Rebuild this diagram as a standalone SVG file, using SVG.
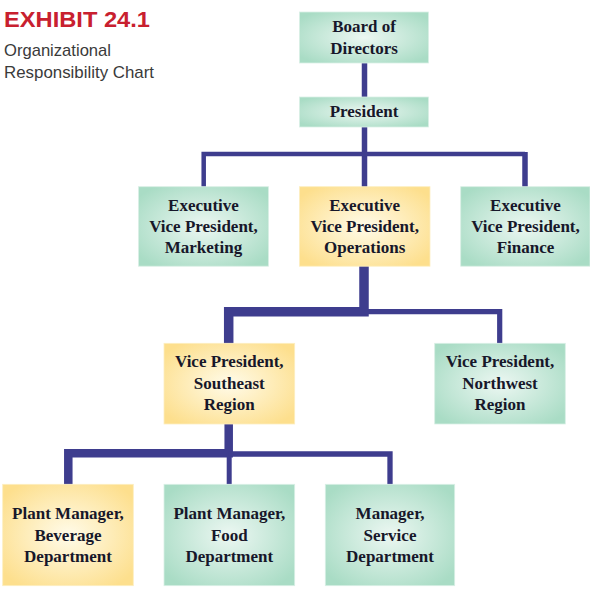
<svg xmlns="http://www.w3.org/2000/svg" width="590" height="603" viewBox="0 0 590 603">
<defs>
<radialGradient id="gGreen" cx="50%" cy="50%" r="62%">
<stop offset="0" stop-color="#ecf7f2"/>
<stop offset="1" stop-color="#a9dcc5"/>
</radialGradient>
<radialGradient id="gYellow" cx="50%" cy="50%" r="62%">
<stop offset="0" stop-color="#fffbe9"/>
<stop offset="1" stop-color="#fddf8d"/>
</radialGradient>
</defs>
<style>
.green{fill:url(#gGreen);stroke:#d9efe5;stroke-width:0.8}
.yellow{fill:url(#gYellow);stroke:#fdeec0;stroke-width:0.8}
.lbl{font-family:"Liberation Serif","Times New Roman",serif;font-weight:bold;font-size:17px;fill:#17172a;text-anchor:middle}
.conn{fill:none;stroke:#3e3d8e;stroke-linejoin:miter;stroke-linecap:butt}
.title{font-family:"Liberation Sans",Arial,sans-serif;font-weight:bold;font-size:21.5px;fill:#c8202f}
.sub{font-family:"Liberation Sans",Arial,sans-serif;font-size:16.6px;fill:#3a3a3a}
</style>
<rect width="590" height="603" fill="#ffffff"/>
<g id="header">
<text class="title" x="4" y="27" textLength="146" lengthAdjust="spacingAndGlyphs">EXHIBIT 24.1</text>
<text class="sub" x="4" y="56">Organizational</text>
<text class="sub" x="4" y="78" textLength="150" lengthAdjust="spacingAndGlyphs">Responsibility Chart</text>
</g>
<g id="connectors">
<path class="conn" stroke-width="5.5" d="M364.5 63 V97"/>
<path class="conn" stroke-width="5.5" d="M364.5 127 V187"/>
<path class="conn" stroke-width="4.5" d="M203.7 187 V154 H525"/>
<path class="conn" stroke-width="5.5" d="M525 152 V187"/>
<path class="conn" stroke-width="9.5" d="M228.7 343.5 V311.7 H364 V266"/>
<path class="conn" stroke-width="5.2" d="M364 311.7 H499.7 V343.5"/>
<path class="conn" stroke-width="8.5" d="M68.3 484.5 V453.3 H228.7 V424"/>
<path class="conn" stroke-width="5" d="M229.2 453 V484.5"/>
<path class="conn" stroke-width="5.3" d="M228.7 454 H390 V484.5"/>
</g>
<g id="board">
<rect class="green" x="299.5" y="12" width="129" height="51"/>
<text class="lbl" x="364" y="32">Board of</text>
<text class="lbl" x="364" y="54">Directors</text>
</g>
<g id="president">
<rect class="green" x="299.5" y="97" width="129" height="30"/>
<text class="lbl" x="364" y="117">President</text>
</g>
<g id="evp-marketing">
<rect class="green" x="138.5" y="186.7" width="130" height="79.5"/>
<text class="lbl" x="203.5" y="211">Executive</text>
<text class="lbl" x="203.5" y="232">Vice President,</text>
<text class="lbl" x="203.5" y="253">Marketing</text>
</g>
<g id="evp-operations">
<rect class="yellow" x="299.5" y="186.7" width="130.5" height="79.5"/>
<text class="lbl" x="364.7" y="211">Executive</text>
<text class="lbl" x="364.7" y="232">Vice President,</text>
<text class="lbl" x="364.7" y="253">Operations</text>
</g>
<g id="evp-finance">
<rect class="green" x="460.7" y="186.7" width="129.3" height="79.5"/>
<text class="lbl" x="525.5" y="211">Executive</text>
<text class="lbl" x="525.5" y="232">Vice President,</text>
<text class="lbl" x="525.5" y="253">Finance</text>
</g>
<g id="vp-southeast">
<rect class="yellow" x="164" y="343.3" width="130.7" height="80.7"/>
<text class="lbl" x="229.3" y="367">Vice President,</text>
<text class="lbl" x="229.3" y="388.5">Southeast</text>
<text class="lbl" x="229.3" y="409.5">Region</text>
</g>
<g id="vp-northwest">
<rect class="green" x="434.7" y="343.3" width="130.6" height="80.7"/>
<text class="lbl" x="500" y="367">Vice President,</text>
<text class="lbl" x="500" y="388.5">Northwest</text>
<text class="lbl" x="500" y="409.5">Region</text>
</g>
<g id="pm-beverage">
<rect class="yellow" x="2.7" y="484.3" width="130.6" height="101.4"/>
<text class="lbl" x="68" y="519.3">Plant Manager,</text>
<text class="lbl" x="68" y="541">Beverage</text>
<text class="lbl" x="68" y="562.3">Department</text>
</g>
<g id="pm-food">
<rect class="green" x="164" y="484.3" width="130.7" height="101.4"/>
<text class="lbl" x="229.3" y="519.3">Plant Manager,</text>
<text class="lbl" x="229.3" y="541">Food</text>
<text class="lbl" x="229.3" y="562.3">Department</text>
</g>
<g id="mgr-service">
<rect class="green" x="325.3" y="484.3" width="129.4" height="101.4"/>
<text class="lbl" x="390" y="519.3">Manager,</text>
<text class="lbl" x="390" y="541">Service</text>
<text class="lbl" x="390" y="562.3">Department</text>
</g>
</svg>
